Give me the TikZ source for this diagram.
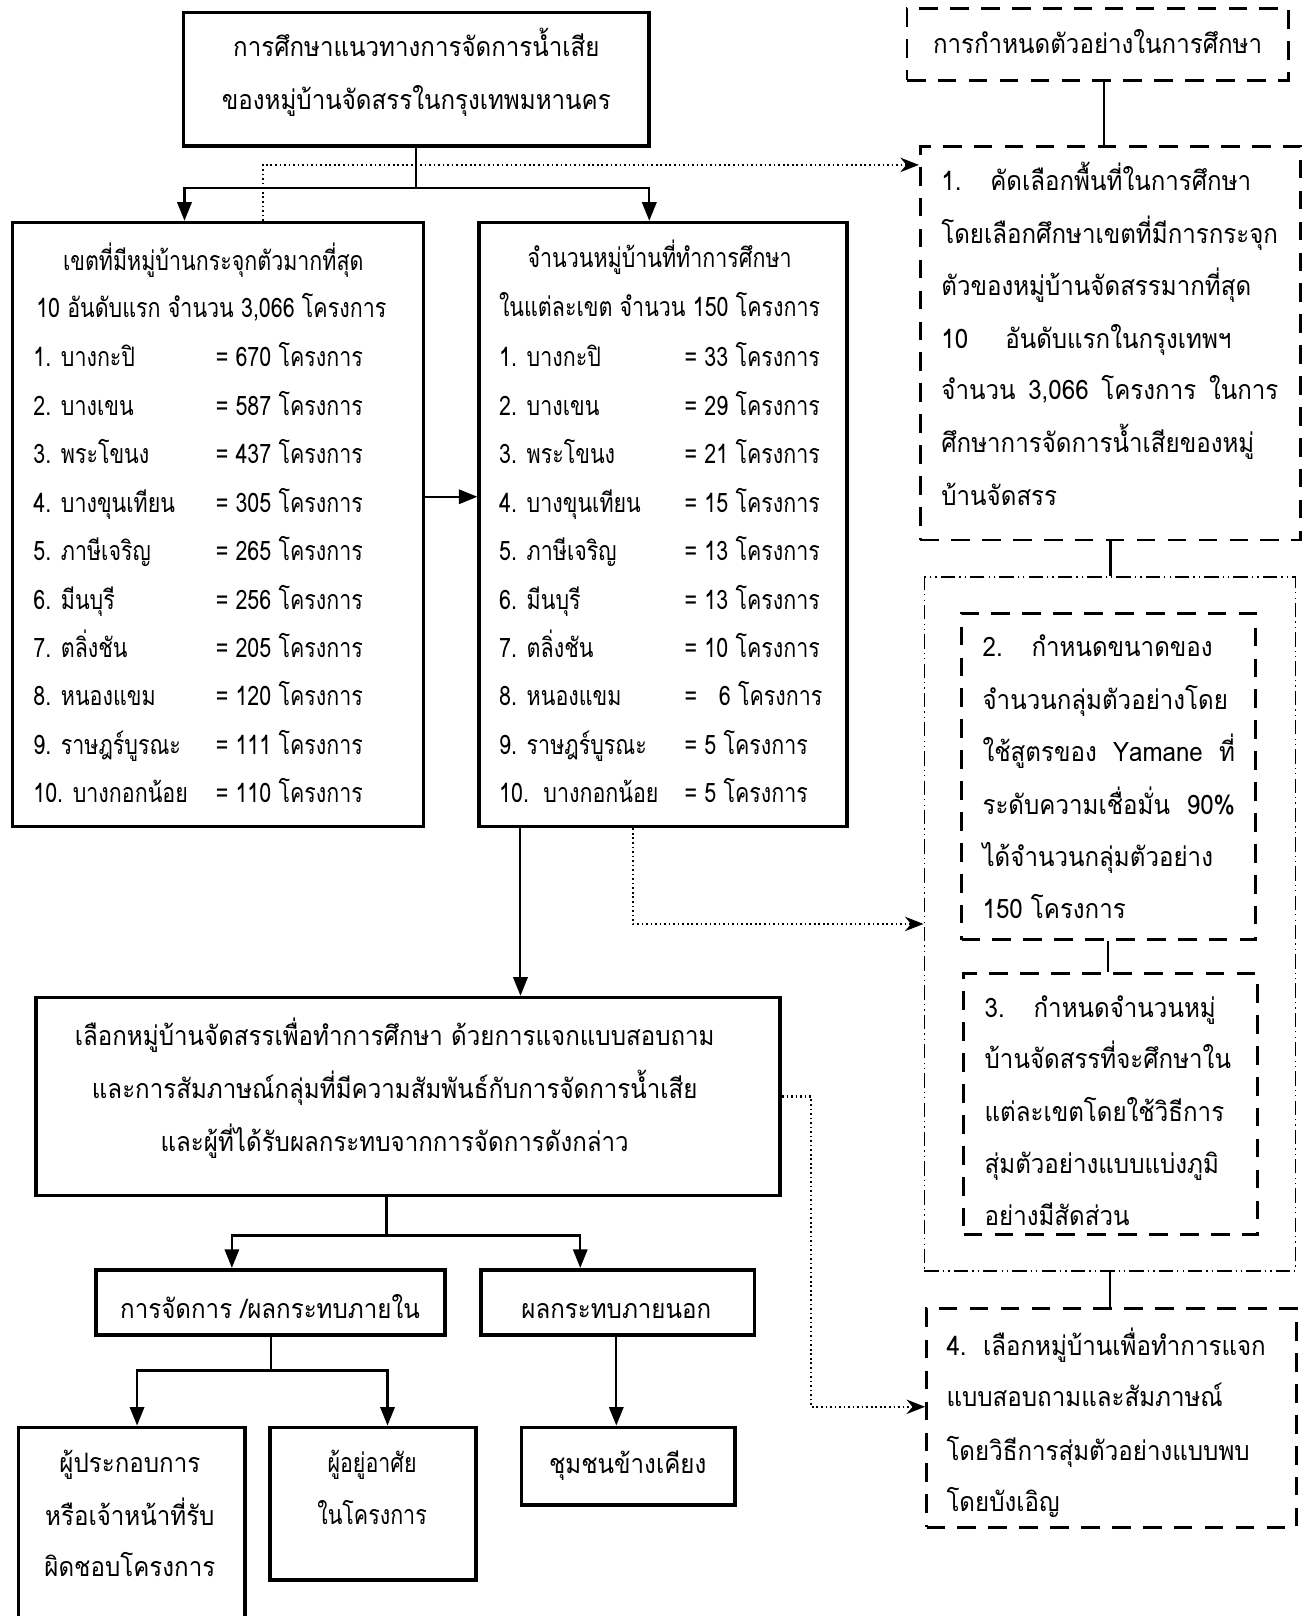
\documentclass[tikz,border=0pt]{standalone}
\usepackage{fontspec}
\setmainfont{Liberation Sans}
\newfontfamily\thai[Script=Thai,FakeStretch=0.8]{Loma}
\newfontfamily\thaiw[Script=Thai,FakeStretch=0.9]{Loma}
\usetikzlibrary{arrows.meta,calc}
\begin{document}
\begin{tikzpicture}[x=0.5pt,y=-0.5pt,
  box/.style={draw,line width=1.8pt,inner sep=0pt},
  dbox/.style={draw,line width=1.4pt,inner sep=0pt,dash pattern=on 9pt off 6pt},
  ddbox/.style={draw,line width=0.9pt,inner sep=0pt,dash pattern=on 7pt off 2pt on 0.6pt off 2pt on 0.6pt off 2pt},
  conn/.style={line width=1pt},
  arr/.style={conn,-{Triangle[length=9pt,width=7pt]}},
  dotarr/.style={line width=1.1pt,dash pattern=on 0.8pt off 1.4pt,-{Stealth[length=9pt,width=7pt]}},
  txt/.style={font=\thai\fontsize{13pt}{15pt}\selectfont,inner sep=0pt,anchor=base},
  wtxt/.style={font=\thaiw\fontsize{13pt}{15pt}\selectfont,inner sep=0pt,anchor=base},
  ltxt/.style={txt,anchor=base west},
  rtxt/.style={font=\thaiw\fontsize{13pt}{15pt}\selectfont,inner sep=0pt,anchor=base west}]
\useasboundingbox (0,0) rectangle (1268,1568);
\fill[white] (0,0) rectangle (1268,1568);

% boxes
\node[box,minimum width=226pt,minimum height=65pt] (top) at (404,77) {};
\node[dbox,minimum width=185pt,minimum height=35pt] (samp) at (1065,43) {};
\node[dbox,minimum width=184.5pt,minimum height=191pt] (b1) at (1077.5,333) {};
\node[ddbox,minimum width=180pt,minimum height=336.5pt] (grp) at (1077,896.5) {};
\node[dbox,minimum width=142.5pt,minimum height=158.5pt] (b2) at (1075.5,753.5) {};
\node[dbox,minimum width=142.5pt,minimum height=126.5pt] (b3) at (1077.5,1071.5) {};
\node[dbox,minimum width=179.5pt,minimum height=106pt] (b4) at (1078.5,1376) {};
\node[box,minimum width=199.5pt,minimum height=293pt] (A) at (211.5,509) {};
\node[box,minimum width=178.5pt,minimum height=293pt] (B) at (643.5,509) {};
\node[box,minimum width=361pt,minimum height=96pt] (C) at (396,1064) {};
\node[box,minimum width=169.5pt,minimum height=31.5pt] (D) at (262.5,1263.5) {};
\node[box,minimum width=132.5pt,minimum height=31.5pt] (E) at (599.5,1263.5) {};
\node[box,minimum width=110pt,minimum height=107.5pt] (F) at (128,1492.5) {};
\node[box,minimum width=100pt,minimum height=74pt] (G) at (362,1459) {};
\node[box,minimum width=103.5pt,minimum height=37.5pt] (H) at (609.5,1422.5) {};

% texts
\node[wtxt] (t1) at (404,55) {การศึกษาแนวทางการจัดการน้ำเสีย};
\node[wtxt] (t2) at (404,106) {ของหมู่บ้านจัดสรรในกรุงเทพมหานคร};
\node[wtxt] (st) at (1065,52) {การกำหนดตัวอย่างในการศึกษา};

\node[txt] (ah1) at (207,262) {เขตที่มีหมู่บ้านกระจุกตัวมากที่สุด};
\node[txt] (ah2) at (205,308) {10 อันดับแรก จำนวน 3,066 โครงการ};
\foreach \lab/\val [count=\i] in {{1. บางกะปิ}/{670},{2. บางเขน}/{587},{3. พระโขนง}/{437},{4. บางขุนเทียน}/{305},{5. ภาษีเจริญ}/{265},{6. มีนบุรี}/{256},{7. ตลิ่งชัน}/{205},{8. หนองแขม}/{120},{9. ราษฎร์บูรณะ}/{111},{10. บางกอกน้อย}/{110}}{
  \node[ltxt] (al\i) at (32,{356+47*(\i-1)}) {\lab};
  \node[ltxt] (av\i) at (209,{356+47*(\i-1)}) {= \val\ โครงการ};
}
\node[txt] (bh1) at (640,260) {จำนวนหมู่บ้านที่ทำการศึกษา};
\node[txt] (bh2) at (640,307) {ในแต่ละเขต จำนวน 150 โครงการ};
\foreach \lab/\val [count=\i] in {{1. บางกะปิ}/{33},{2. บางเขน}/{29},{3. พระโขนง}/{21},{4. บางขุนเทียน}/{15},{5. ภาษีเจริญ}/{13},{6. มีนบุรี}/{13},{7. ตลิ่งชัน}/{10},{8. หนองแขม}/{\ \ 6},{9. ราษฎร์บูรณะ}/{5},{10.\ \ บางกอกน้อย}/{5}}{
  \node[ltxt] (bl\i) at (484,{356+47*(\i-1)}) {\lab};
  \node[ltxt] (bv\i) at (664,{356+47*(\i-1)}) {= \val\ โครงการ};
}

\node[rtxt] (r11) at (913,185) {\makebox[163.5pt][l]{1.\hspace{14pt}คัดเลือกพื้นที่ในการศึกษา}};
\node[rtxt] (r12) at (913,236) {\makebox[163.5pt][s]{โดยเลือกศึกษาเขตที่มีการกระจุก}};
\node[rtxt] (r13) at (913,287) {ตัวของหมู่บ้านจัดสรรมากที่สุด};
\node[rtxt] (r14) at (913,338) {\makebox[163.5pt][l]{10\hspace{18pt}อันดับแรกในกรุงเทพฯ}};
\node[rtxt] (r15) at (913,388) {\makebox[163.5pt][s]{จำนวน 3,066 โครงการ ในการ}};
\node[rtxt] (r16) at (913,439) {ศึกษาการจัดการน้ำเสียของหมู่};
\node[rtxt] (r17) at (913,490) {บ้านจัดสรร};

\node[rtxt] (r21) at (953,637) {\makebox[122.5pt][l]{2.\hspace{14pt}กำหนดขนาดของ}};
\node[rtxt] (r22) at (953,688) {จำนวนกลุ่มตัวอย่างโดย};
\node[rtxt] (r23) at (953,739) {\makebox[122.5pt][s]{ใช้สูตรของ Yamane ที่}};
\node[rtxt] (r24) at (953,790) {\makebox[122.5pt][s]{ระดับความเชื่อมั่น 90\%}};
\node[rtxt] (r25) at (953,841) {ได้จำนวนกลุ่มตัวอย่าง};
\node[rtxt] (r26) at (953,891) {150 โครงการ};

\node[rtxt] (r31) at (955,987) {\makebox[122.5pt][l]{3.\hspace{14pt}กำหนดจำนวนหมู่}};
\node[rtxt] (r32) at (955,1037) {บ้านจัดสรรที่จะศึกษาใน};
\node[rtxt] (r33) at (955,1088) {แต่ละเขตโดยใช้วิธีการ};
\node[rtxt] (r34) at (955,1139) {สุ่มตัวอย่างแบบแบ่งภูมิ};
\node[rtxt] (r35) at (955,1189) {อย่างมีสัดส่วน};

\node[rtxt] (r41) at (918,1315) {\makebox[160pt][l]{4.\hspace{8pt}เลือกหมู่บ้านเพื่อทำการแจก}};
\node[rtxt] (r42) at (918,1365) {แบบสอบถามและสัมภาษณ์};
\node[rtxt] (r43) at (918,1417) {โดยวิธีการสุ่มตัวอย่างแบบพบ};
\node[rtxt] (r44) at (918,1467) {โดยบังเอิญ};

\node[wtxt] (c1) at (383,1014) {เลือกหมู่บ้านจัดสรรเพื่อทำการศึกษา ด้วยการแจกแบบสอบถาม};
\node[wtxt] (c2) at (383,1066) {และการสัมภาษณ์กลุ่มที่มีความสัมพันธ์กับการจัดการน้ำเสีย};
\node[wtxt] (c3) at (383,1117) {และผู้ที่ได้รับผลกระทบจากการจัดการดังกล่าว};
\node[wtxt] (dt) at (262,1279) {การจัดการ /ผลกระทบภายใน};
\node[wtxt] (et) at (598,1279) {ผลกระทบภายนอก};
\node[wtxt] (f1) at (126,1429) {ผู้ประกอบการ};
\node[wtxt] (f2) at (126,1480) {หรือเจ้าหน้าที่รับ};
\node[wtxt] (f3) at (126,1530) {ผิดชอบโครงการ};
\node[txt] (g1) at (361,1429) {ผู้อยู่อาศัย};
\node[txt] (g2) at (361,1479) {ในโครงการ};
\node[wtxt] (ht) at (609,1430) {ชุมชนข้างเคียง};

% connectors
\draw[arr] (top.south) -- ++(0,39) -| ([xshift=-16.25pt]A.north);
\draw[arr] (top.south) -- ++(0,39) -| ([xshift=-6.75pt]B.north);
\draw[dotarr] ([xshift=21.75pt]A.north) |- ([yshift=86.5pt]b1.west);
\draw[arr] ([yshift=13.5pt]A.east) -- ([yshift=13.5pt]B.west);
\coordinate (s1) at ([xshift=3pt]samp.south);
\draw[conn] (s1) -- (s1 |- b1.north);
\draw[conn] (b1.south) -- (b1.south |- grp.north);
\draw[conn] (b2.south) -- (b2.south |- b3.north);
\draw[conn] (grp.south) -- (grp.south |- b4.north);
\draw[dotarr] ([xshift=-14.75pt]B.south) |- (grp.west);
\coordinate (bs) at ([xshift=-69.25pt]B.south);
\draw[arr] (bs) -- (bs |- C.north);
\draw[dotarr] (C.east) -- ++(28,0) |- ([yshift=5.5pt]b4.west);
\coordinate (cs) at ([xshift=-10.5pt]C.south);
\draw[conn] (cs) -- ++(0,37) coordinate (cj);
\draw[arr] (cj) -| ([xshift=-18.75pt]D.north);
\draw[arr] (cj) -| ([xshift=-18.25pt]E.north);
\draw[conn] (D.south) -- ++(0,33) coordinate (dj);
\draw[arr] (dj) -| ([xshift=2.5pt]F.north);
\draw[arr] (dj) -| ([xshift=7pt]G.north);
\coordinate (es) at ([xshift=-0.75pt]E.south);
\draw[arr] (es) -- (es |- H.north);
\end{tikzpicture}
\end{document}
